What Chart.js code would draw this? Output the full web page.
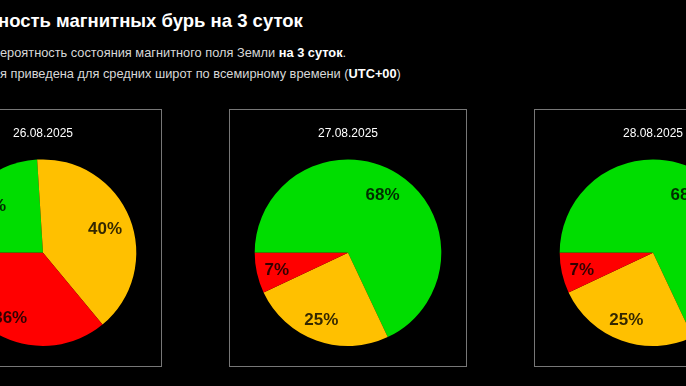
<!DOCTYPE html>
<html>
<head>
<meta charset="utf-8">
<script src="https://cdn.jsdelivr.net/npm/chart.js@4.4.0/dist/chart.umd.min.js"></script>
<style>
  body { margin: 0; background: #000; width: 686px; height: 386px; overflow: hidden; position: relative; font-family: "Liberation Sans", Arial, sans-serif; }
  .line { position: absolute; white-space: nowrap; }
  .cut { position: absolute; right: 100%; }
  #title { left: -2px; top: 10px; font-size: 18.5px; font-weight: bold; color: #fff; }
  #sub1 { left: 0px; top: 45px; font-size: 12.8px; color: #d8d8d8; }
  #sub2 { left: 0px; top: 66px; font-size: 12.8px; color: #d8d8d8; }
  b { color: #fff; }
  .box { position: absolute; top: 109px; width: 236px; height: 256px; border: 1px solid #777; }
  .box canvas { display: block; }
</style>
</head>
<body>
<div class="line" id="title"><span class="cut">Вероят</span>ность магнитных бурь на 3 суток</div>
<div class="line" id="sub1"><span class="cut">В</span>ероятность состояния магнитного поля Земли <b>на 3 суток</b>.</div>
<div class="line" id="sub2"><span class="cut">Информаци</span>я приведена для средних широт по всемирному времени (<b>UTC+00</b>)</div>

<div class="box" style="left:-76px"><canvas id="day1" width="236" height="256"></canvas></div>
<div class="box" style="left:229px"><canvas id="day2" width="236" height="256"></canvas></div>
<div class="box" style="left:534px"><canvas id="day3" width="236" height="256"></canvas></div>

<script>
// probability of: calm, minor storm, storm
const dates = ['26.08.2025', '27.08.2025', '28.08.2025']
const categories = ['Спокойное', 'Возмущённое', 'Буря']
const day1 = [24, 40, 36]
const day2 = [68, 25, 7]
const day3 = [68, 25, 7]
const colors = ['#00dd00', '#ffc000', '#ff0000']

// draws the percent inside every slice
const percentLabels = {
    id: 'percentLabels',
    afterDatasetsDraw(chart) {
        const ctx = chart.ctx
        const meta = chart.getDatasetMeta(0)
        const values = chart.data.datasets[0].data
        ctx.save()
        ctx.font = 'bold 17px "Liberation Sans", Arial, sans-serif'
        ctx.fillStyle = 'rgba(0,0,0,0.8)'
        ctx.textAlign = 'center'
        ctx.textBaseline = 'middle'
        meta.data.forEach((arc, i) => {
            const p = arc.getProps(['x', 'y', 'startAngle', 'endAngle', 'outerRadius'], true)
            const mid = (p.startAngle + p.endAngle) / 2
            const r = p.outerRadius * 0.75
            ctx.fillText(values[i] + '%', p.x - 3 + Math.cos(mid) * r, p.y + 2 + Math.sin(mid) * r)
        })
        ctx.restore()
    }
}

const makePie = (id, date, values) => new Chart(document.getElementById(id), {
    type: 'pie',
    data: {
        labels: categories,
        datasets: [{
            data: values,
            backgroundColor: colors,
            borderWidth: 0
        }]
    },
    options: {
        responsive: false,
        animation: false,
        rotation: -90,
        layout: { padding: { top: 0, bottom: 20 } },
        plugins: {
            legend: { display: false },
            tooltip: { enabled: false },
            title: {
                display: true,
                text: date,
                color: '#fff',
                font: { family: '"Liberation Sans", Arial, sans-serif', size: 12, weight: 'normal' },
                padding: { top: 16, bottom: 19 }
            }
        }
    },
    plugins: [percentLabels]
})

makePie('day1', dates[0], day1)
makePie('day2', dates[1], day2)
makePie('day3', dates[2], day3)
</script>
</body>
</html>
